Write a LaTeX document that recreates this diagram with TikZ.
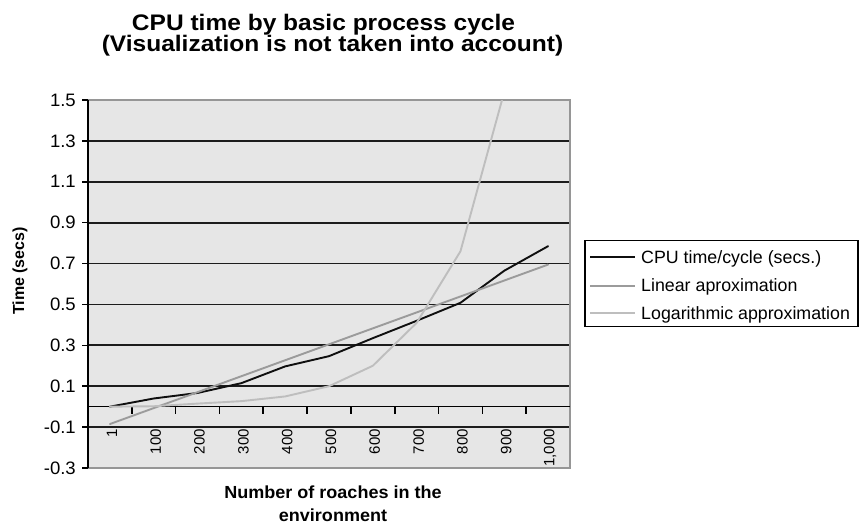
\documentclass[tikz,border=0pt]{standalone}
\usepackage{fontspec}
\setmainfont{Liberation Sans}
\definecolor{plotbg}{RGB}{230,230,230}
\definecolor{gridc}{RGB}{28,28,28}
\definecolor{framec}{RGB}{150,150,150}
\definecolor{cpuc}{RGB}{15,15,15}
\definecolor{linc}{RGB}{155,155,155}
\definecolor{logc}{RGB}{190,190,190}
\begin{document}
\begin{tikzpicture}[x=1pt,y=-1pt,
  declare function={cx(\i)=88+(\i+0.5)*43.818; vy(\v)=100+(1.5-\v)*204.44;},
  gridline/.style={draw=gridc, line width=1.8pt},
  axisline/.style={draw=black, line width=1.6pt},
  framed/.style={draw=framec, line width=1.2pt},
  series/.style={line width=1.9pt, line join=round, line cap=round},
  cpuline/.style={series, draw=cpuc},
  linline/.style={series, draw=linc},
  logline/.style={series, draw=logc},
  titletext/.style={font=\bfseries\fontsize{22.5}{22.5}\selectfont, anchor=base, inner sep=0, xscale=1.09},
  axtitle/.style={font=\bfseries\fontsize{17.5}{17.5}\selectfont, anchor=base, inner sep=0, xscale=1.03},
  ylab/.style={font=\fontsize{18}{18}\selectfont, anchor=east, inner sep=0, xscale=1.03},
  xlab/.style={font=\fontsize{15}{15}\selectfont, anchor=east, inner sep=0, rotate=90},
  legtext/.style={font=\fontsize{17.8}{17.8}\selectfont, anchor=base west, inner sep=0},
  legbox/.style={draw=black, line width=1.2pt, fill=white, minimum width=273pt, minimum height=86pt, inner sep=0}
]
\fill[white] (0,0) rectangle (862,525);
\useasboundingbox (0,0) rectangle (862,525);

% titles
\node[titletext] (t1) at (323.5,30) {CPU time by basic process cycle};
\node[titletext] (t2) at (332.5,51.7) {(Visualization is not taken into account)};

% plot area
\fill[plotbg] (88,100) rectangle (570,468);
\foreach \v in {-0.1,0.1,0.3,0.5,0.7,0.9,1.1,1.3}
  \draw[gridline] (88,{vy(\v)}) -- (570,{vy(\v)});
\draw[framed] (88,100) -- (570,100) -- (570,468) -- (88,468);

% horizontal axis at zero with category ticks
\draw[axisline] (88,{vy(0)}) -- (570,{vy(0)});
\foreach \i in {1,...,10}
  \draw[axisline] ({88+\i*43.818},{vy(0)}) -- ++(0,7);

% vertical axis with ticks and labels
\draw[axisline] (88,100) -- (88,468);
\foreach \v in {1.5,1.3,1.1,0.9,0.7,0.5,0.3,0.1,-0.1,-0.3} {
  \draw[axisline] (88,{vy(\v)}) -- ++(-6,0);
  \node[ylab] at (76,{vy(\v)}) {\v};
}

% category labels
\foreach \i/\t in {0/1,1/100,2/200,3/300,4/400,5/500,6/600,7/700,8/800,9/900,10/{1,000}}
  \node[xlab] at ({cx(\i)+2},429) {\t};

% data series
\begin{scope}
\clip (88,100) rectangle (570,468);
\draw[cpuline] ({cx(0)},{vy(0)}) -- ({cx(1)},{vy(0.04)}) -- ({cx(2)},{vy(0.067)})
  -- ({cx(3)},{vy(0.115)}) -- ({cx(4)},{vy(0.197)}) -- ({cx(5)},{vy(0.247)})
  -- ({cx(6)},{vy(0.335)}) -- ({cx(7)},{vy(0.42)}) -- ({cx(8)},{vy(0.508)})
  -- ({cx(9)},{vy(0.665)}) -- ({cx(10)},{vy(0.785)});
\draw[linline] ({cx(0)},{vy(-0.085)}) -- ({cx(10)},{vy(0.695)});
\draw[logline] ({cx(0)},{vy(0)}) -- ({cx(1)},{vy(0.002)}) -- ({cx(2)},{vy(0.015)})
  -- ({cx(3)},{vy(0.027)}) -- ({cx(4)},{vy(0.05)}) -- ({cx(5)},{vy(0.1)})
  -- ({cx(6)},{vy(0.2)}) -- ({cx(7)},{vy(0.41)}) -- ({cx(8)},{vy(0.76)})
  -- ({cx(9)},{vy(1.54)}) -- ({cx(10)},{vy(3.1)});
\end{scope}

% axis titles
\node[font=\bfseries\fontsize{16}{16}\selectfont, rotate=90, inner sep=0] (ytitle) at (20,271) {Time (secs)};
\node[axtitle] (xt1) at (333,498) {Number of roaches in the};
\node[axtitle] (xt2) at (333,521.5) {environment};

% legend
\node[legbox] (leg) at (721.5,283.5) {};
\draw[cpuline, line cap=butt] (590,257.3) -- (635,257.3);
\node[legtext] (l1) at (641,263.5) {CPU time/cycle (secs.)};
\draw[linline, line cap=butt] (590,285.7) -- (635,285.7);
\node[legtext] (l2) at (641,291.7) {Linear aproximation};
\draw[logline, line cap=butt] (590,313.3) -- (635,313.3);
\node[legtext] (l3) at (641,319.7) {Logarithmic approximation};
\end{tikzpicture}
\end{document}
